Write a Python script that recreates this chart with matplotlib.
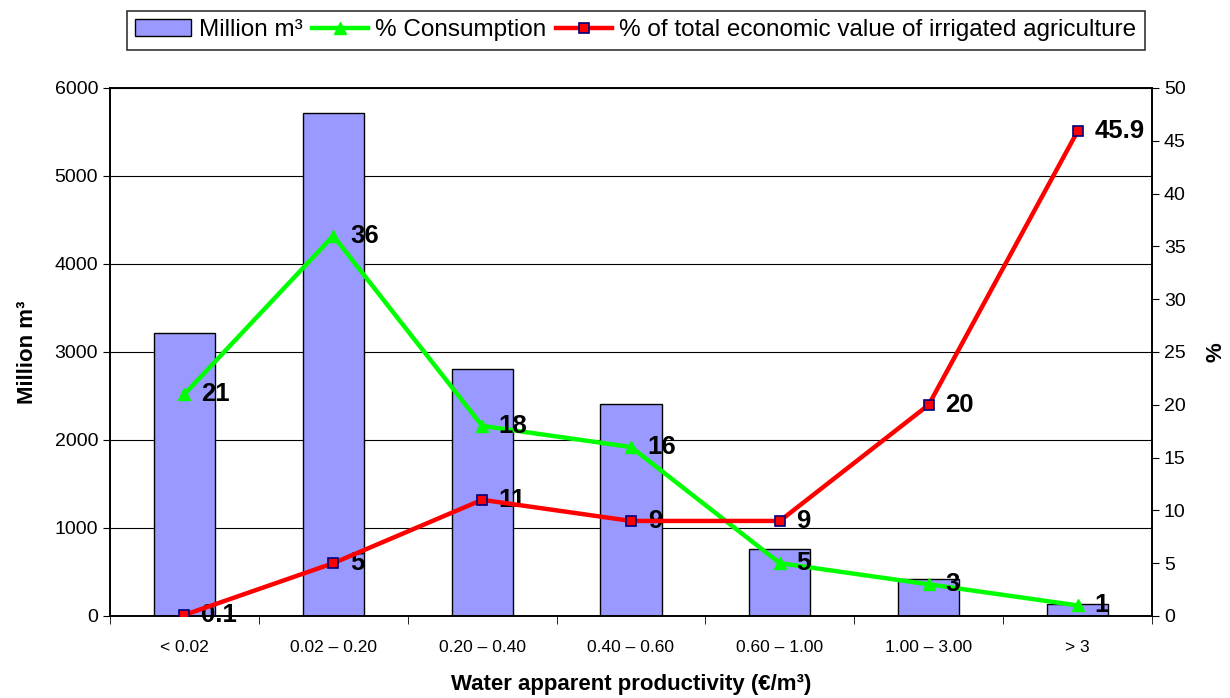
import matplotlib.pyplot as plt
import numpy as np

plt.rcParams["font.family"] = ["Liberation Sans", "DejaVu Sans"]

# Data
categories = ["< 0.02", "0.02 – 0.20", "0.20 – 0.40", "0.40 – 0.60",
              "0.60 – 1.00", "1.00 – 3.00", "> 3"]
volume = [3220, 5710, 2805, 2410, 760, 420, 135]
consumption = [21, 36, 18, 16, 5, 3, 1]
econ_value = [0.1, 5, 11, 9, 9, 20, 45.9]
consumption_labels = ["21", "36", "18", "16", "5", "3", "1"]
econ_labels = ["0.1", "5", "11", "9", "9", "20", "45.9"]

x = np.arange(len(categories))

fig = plt.figure(figsize=(12.3, 6.98), dpi=100)
ax = fig.add_axes([0.0894, 0.1175, 0.8472, 0.7565])
ax2 = ax.twinx()

# Bars (left axis)
bars = ax.bar(x, volume, width=0.41, color="#9999FF", edgecolor="black",
              linewidth=1, label="Million m³", zorder=2)
ax.set_ylim(0, 6000)
ax.set_yticks(np.arange(0, 6001, 1000))
ax.set_xlim(-0.5, len(categories) - 0.5)
ax.yaxis.grid(True, color="black", linewidth=0.8)
ax.set_axisbelow(True)

ax.set_xticks(x)
ax.set_xticklabels(categories, fontsize=12.5)
ax.tick_params(axis="x", length=0, pad=17)
ax.set_xticks(np.arange(-0.5, len(categories)), minor=True)
ax.tick_params(axis="x", which="minor", length=6, direction="out")
ax.tick_params(axis="y", labelsize=14, direction="out", length=5)
ax.set_ylabel("Million m³", fontsize=16, fontweight="bold", labelpad=12)
ax.set_xlabel("Water apparent productivity (€/m³)", fontsize=16,
              fontweight="bold", labelpad=14)

# Lines (right axis)
l1, = ax2.plot(x, consumption, color="#00FF00", linewidth=3.2, marker="^",
               markersize=8, label="% Consumption", zorder=3)
l2, = ax2.plot(x, econ_value, color="#FF0000", linewidth=3.2, marker="s",
               markersize=6.5, markerfacecolor="#FF0000", markeredgecolor="#000080",
               markeredgewidth=1.2,
               label="% of total economic value of irrigated agriculture", zorder=4)
ax2.set_ylim(0, 50)
ax2.set_yticks(np.arange(0, 51, 5))
ax2.tick_params(axis="y", labelsize=14, direction="out", length=5)
ax2.set_ylabel("%", fontsize=16, fontweight="bold", labelpad=14)

for xi, v, s in zip(x, consumption, consumption_labels):
    ax2.annotate(s, (xi, v), xytext=(12, 0), textcoords="offset points",
                 ha="left", va="center", fontsize=18.5, fontweight="bold")
for xi, v, s in zip(x, econ_value, econ_labels):
    ax2.annotate(s, (xi, v), xytext=(12, 0), textcoords="offset points",
                 ha="left", va="center", fontsize=18.5, fontweight="bold")

for a in (ax, ax2):
    for sp in a.spines.values():
        sp.set_linewidth(1.2)

leg = fig.legend([bars, l1, l2],
                 ["Million m³", "% Consumption",
                  "% of total economic value of irrigated agriculture"],
                 loc="center", bbox_to_anchor=(0.517, 0.957), ncol=3,
                 fontsize=17.5, frameon=True, fancybox=False, handlelength=2.3,
                 handletextpad=0.3, columnspacing=0.4, borderpad=0.35)
leg.get_frame().set_edgecolor("black")
leg.get_frame().set_linewidth(1.2)

fig.savefig("out.png", dpi=100)
